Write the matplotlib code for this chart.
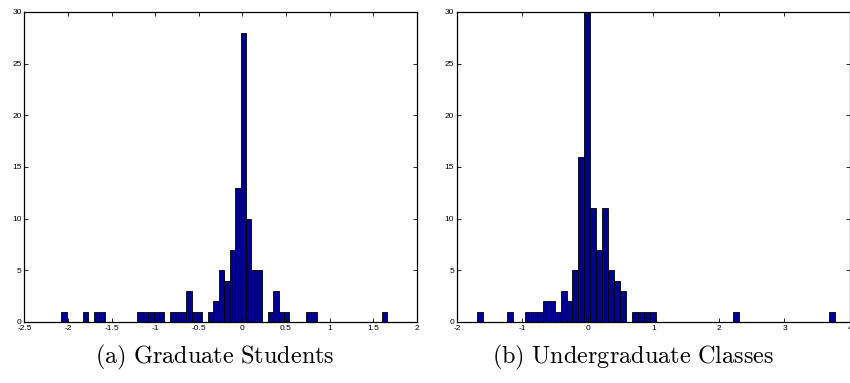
import numpy as np
import matplotlib
matplotlib.use("Agg")
import matplotlib.pyplot as plt

plt.rcParams['mathtext.fontset'] = 'cm'
plt.rcParams['font.family'] = ['Liberation Sans', 'DejaVu Sans']

# histogram counts, 60 equal bins each
grad_range = (-2.08, 1.663)
grad_counts = [1, 0, 0, 0, 1, 0, 1, 1, 0, 0,
               0, 0, 0, 0, 1, 1, 1, 1, 1, 0,
               1, 1, 1, 3, 1, 1, 0, 1, 2, 5,
               4, 7, 13, 28, 10, 5, 5, 0, 1, 3,
               1, 1, 0, 0, 0, 1, 1, 0, 0, 0,
               0, 0, 0, 0, 0, 0, 0, 0, 0, 1]

under_range = (-1.691, 3.764)
under_counts = [1, 0, 0, 0, 0, 1, 0, 0, 1, 1,
                1, 2, 2, 1, 3, 2, 5, 16, 30, 11,
                7, 11, 5, 4, 3, 0, 1, 1, 1, 1,
                0, 0, 0, 0, 0, 0, 0, 0, 0, 0,
                0, 0, 0, 1, 0, 0, 0, 0, 0, 0,
                0, 0, 0, 0, 0, 0, 0, 0, 0, 1]

grad_xticks = [-2.5, -2, -1.5, -1, -0.5, 0, 0.5, 1, 1.5, 2]
grad_xlabels = ['-2.5', '-2', '-1.5', '-1', '-0.5', '0', '0.5', '1', '1.5', '2']
under_xticks = [-2, -1, 0, 1, 2, 3, 4]
under_xlabels = ['-2', '-1', '0', '1', '2', '3', '4']
yticks = [0, 5, 10, 15, 20, 25, 30]
captions = [r'$\mathrm{(a)\ Graduate\ Students}$', r'$\mathrm{(b)\ Undergraduate\ Classes}$']

fig = plt.figure(figsize=(8.5, 3.83), dpi=100)
ax1 = fig.add_axes([0.0288, 0.1593, 0.4614, 0.8094])
ax2 = fig.add_axes([0.5376, 0.1593, 0.4624, 0.8094])

panels = [
    (ax1, grad_range, grad_counts, grad_xticks, grad_xlabels, (-2.5, 2)),
    (ax2, under_range, under_counts, under_xticks, under_xlabels, (-2, 4)),
]

for ax, rng, counts, xt, xl, xlim in panels:
    edges = np.linspace(rng[0], rng[1], len(counts) + 1)
    ax.bar(edges[:-1], counts, width=np.diff(edges), align='edge',
           color='#00008F', edgecolor='black', linewidth=0.6)
    ax.set_xlim(*xlim)
    ax.set_ylim(0, 30)
    ax.set_xticks(xt)
    ax.set_xticklabels(xl)
    ax.set_yticks(yticks)
    ax.tick_params(direction='in', top=True, right=True, length=3, width=0.6,
                   labelsize=6, pad=2)
    for s in ax.spines.values():
        s.set_linewidth(0.9)

fig.text(0.253, 0.068, captions[0], fontsize=17.5, ha='center', va='center')
fig.text(0.745, 0.068, captions[1], fontsize=17.5, ha='center', va='center')

fig.savefig('out.png', dpi=100)
